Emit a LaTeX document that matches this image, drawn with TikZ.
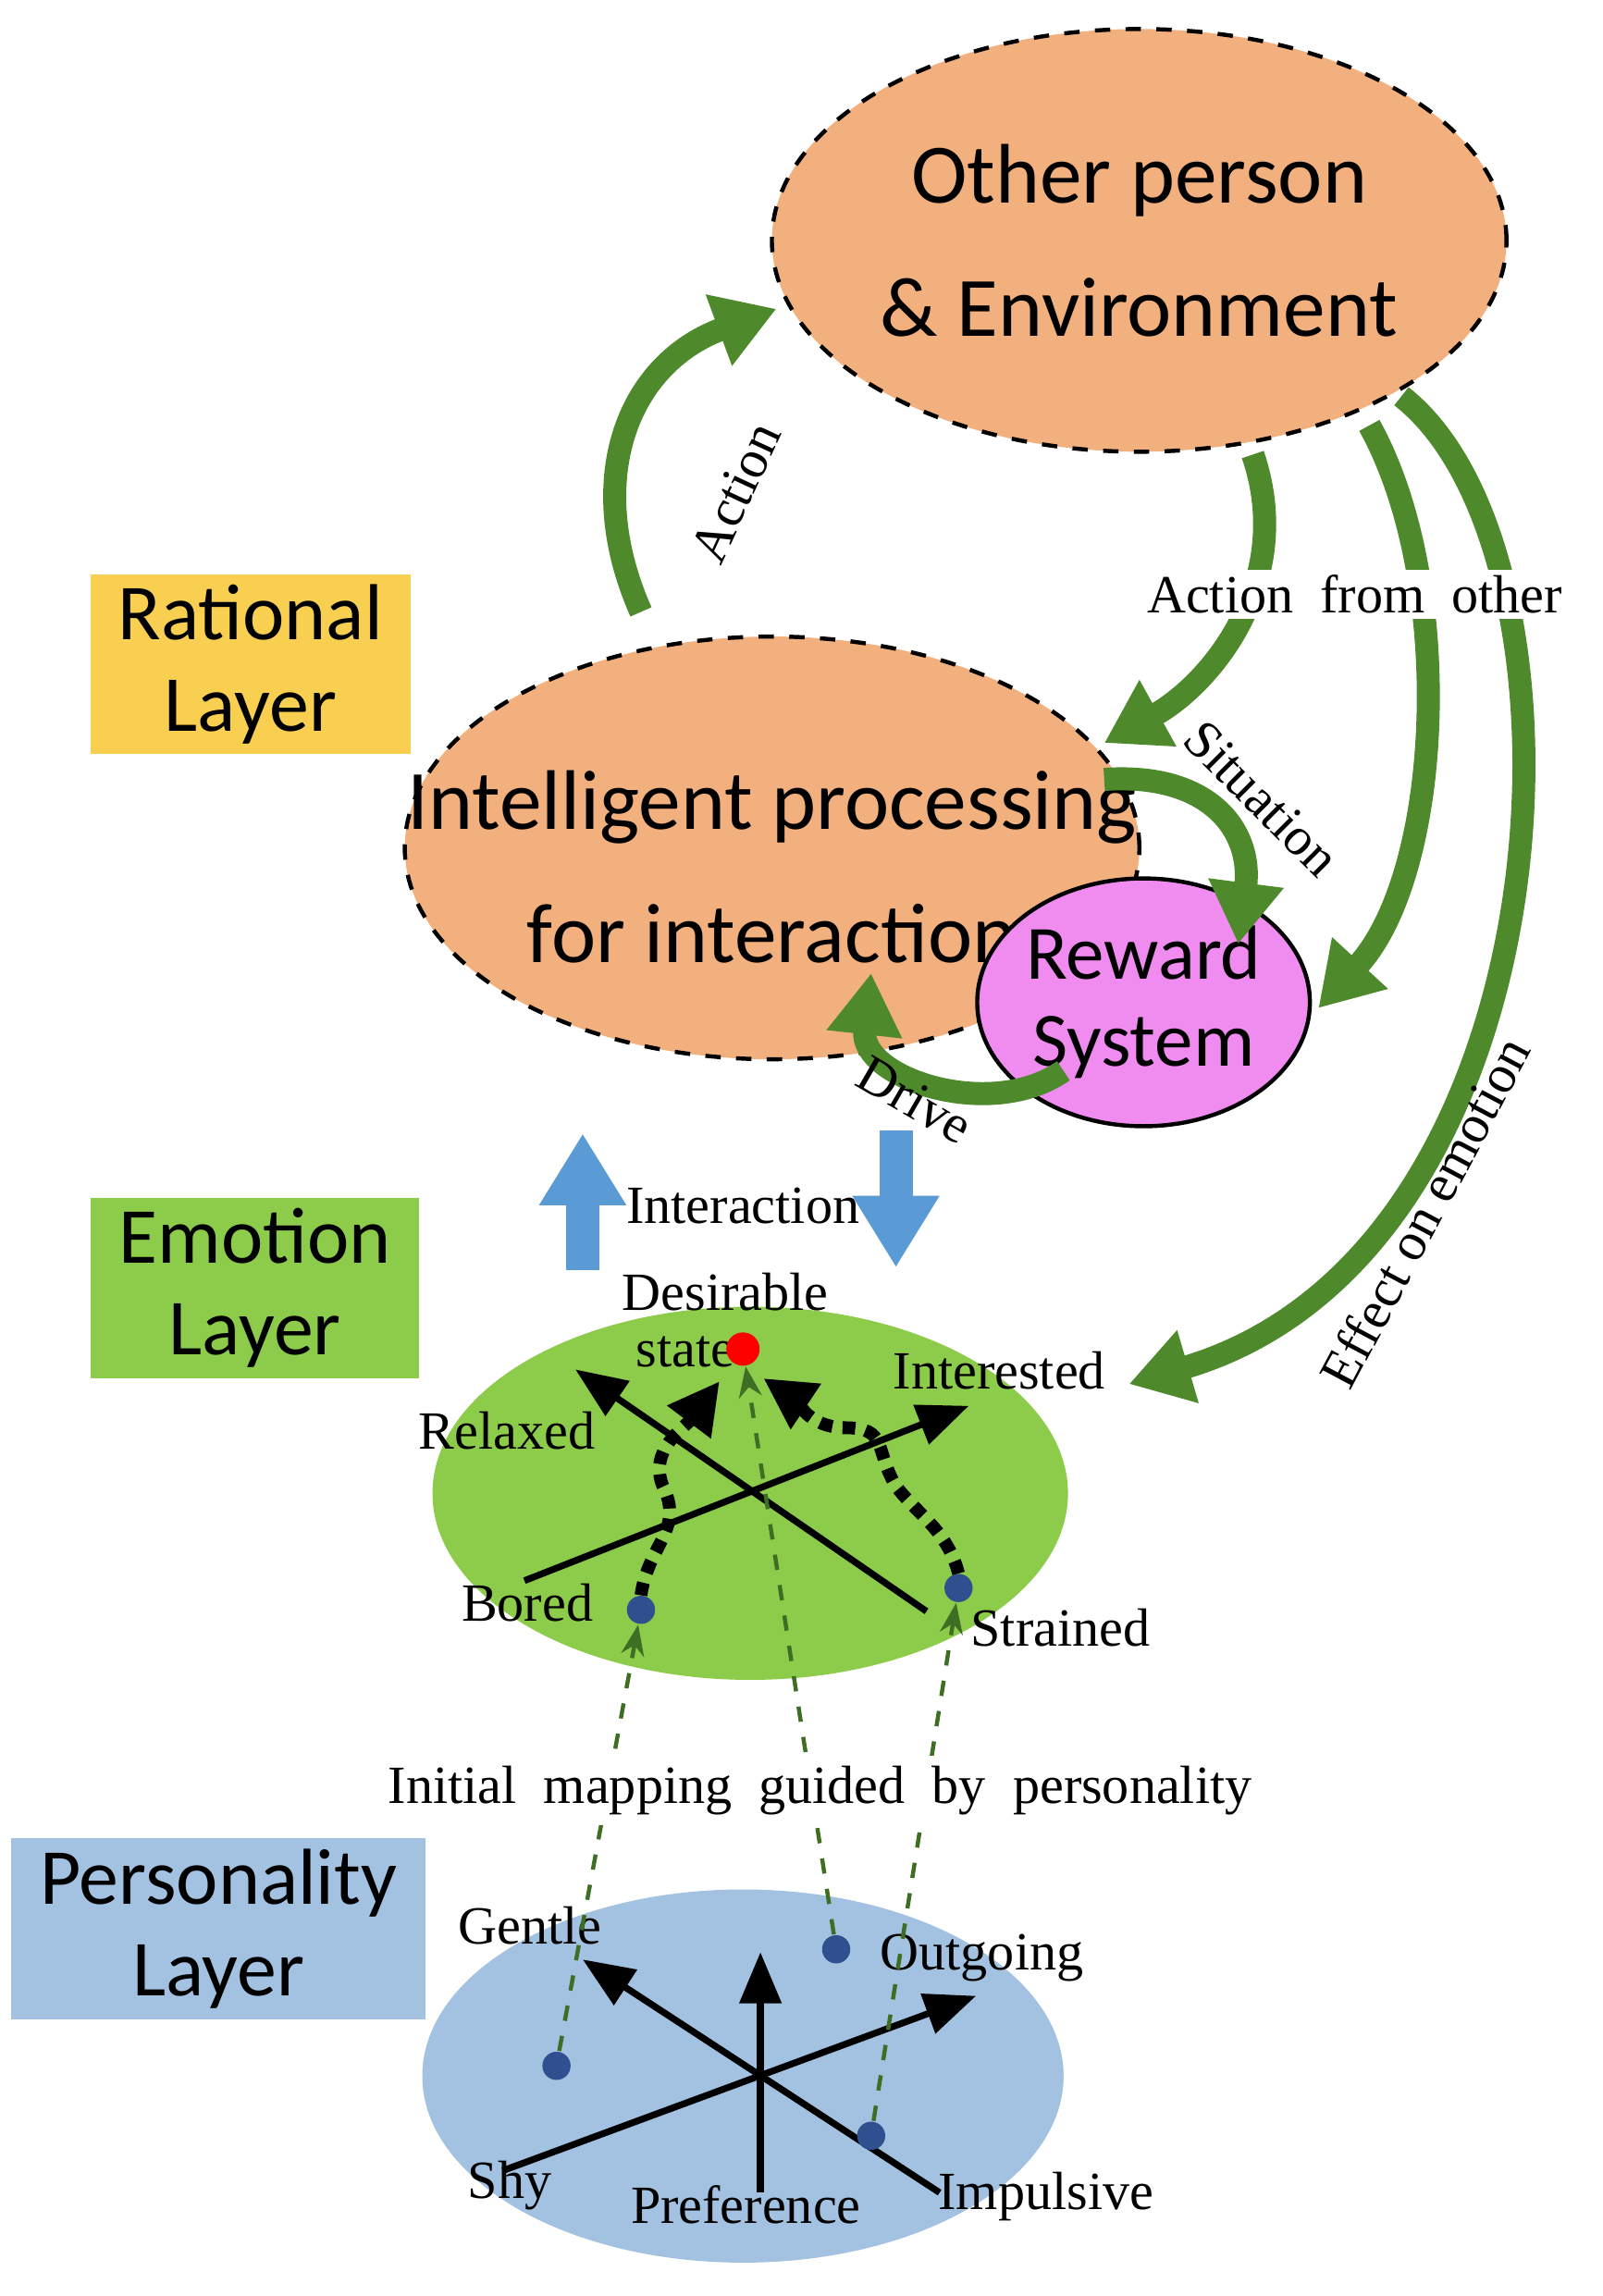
\documentclass[tikz,border=0pt]{standalone}
\usepackage{fontspec}
\setmainfont{Liberation Serif}
\newfontfamily\carl{Carlito}
\usetikzlibrary{shapes.geometric,arrows.meta}
\definecolor{orng}{HTML}{F2B07E}
\definecolor{gr}{HTML}{4E8A2C}
\definecolor{lgr}{HTML}{8DCB4A}
\definecolor{lbl}{HTML}{A3C1E0}
\definecolor{ylw}{HTML}{F9CF52}
\definecolor{viol}{HTML}{F08CF0}
\definecolor{arrb}{HTML}{5B9BD5}
\definecolor{dotb}{HTML}{2F4F8F}
\begin{document}
\begin{tikzpicture}[x=0.01cm,y=-0.01cm,
 big/.style={ellipse,draw,dashed,thick,fill=orng,inner sep=0,font=\carl\fontsize{16.5}{20}\selectfont,align=center},
 layer/.style={inner sep=0,font=\carl\fontsize{15.5}{18}\selectfont,align=center},
 lab/.style={font=\fontsize{10.5}{11}\selectfont,inner sep=1pt},
 garr/.style={gr,line width=4.5pt,-{Triangle[width=14pt,length=12pt]}},
 ax/.style={line width=1.3pt,-{Triangle[width=8pt,length=10pt]}},
 dot/.style={circle,fill=dotb,inner sep=0,minimum size=5.5pt},
 mapd/.style={gr!80!black,dashed,thick,-{Stealth[length=6pt]}},
 wig/.style={line width=2.5pt,dotted,-{Triangle[width=10pt,length=10pt]}},
 barr/.style={arrb,line width=6.5pt,-{Triangle[width=16pt,length=14pt]}}]
\useasboundingbox (0,0) rectangle (1100,1576);
% layer boxes
\node[layer,fill=ylw,minimum width=2.2cm,minimum height=1.23cm] (rl) at (172,456) {Rational\\Layer};
\node[layer,fill=lgr,minimum width=2.25cm,minimum height=1.24cm] (el) at (175,884) {Emotion\\Layer};
\node[layer,fill=lbl,minimum width=2.84cm,minimum height=1.24cm] (pl) at (150,1324) {Personality\\Layer};
% main ellipses
\node[big,minimum width=5.04cm,minimum height=2.9cm] (op) at (782,165) {Other person\\[6pt]\& Environment};
\node[big,minimum width=5.04cm,minimum height=2.9cm] (ip) at (530,582) {};
\node[font=\carl\fontsize{16.5}{20}\selectfont,align=center] at (530,595) {Intelligent processing\\[6pt]for interaction};
\node[ellipse,draw,thick,fill=viol,minimum width=2.1cm,minimum height=1.7cm,inner sep=0,font=\carl\fontsize{15}{17}\selectfont,align=center] (rs) at (785,688) {Reward\\System};
% emotion & personality ellipses
\node[ellipse,fill=lgr,minimum width=4.36cm,minimum height=2.56cm] (em) at (515,1025) {};
\node[ellipse,fill=lbl,minimum width=4.4cm,minimum height=2.56cm] (pe) at (510,1425) {};
% green arrows
\coordinate (a1) at (440,420); \coordinate (a2) at (533,212);
\draw[garr] (a1) .. controls (400,330) and (430,250) .. (a2);
\node[lab,rotate=65] at (505,338) {Action};
\coordinate (b1) at (860,312); \coordinate (b2) at (758,510);
\draw[garr] (b1) .. controls (890,400) and (830,470) .. (b2);
\coordinate (c1) at (758,535); \coordinate (c2) at (850,648);
\draw[garr] (c1) .. controls (830,530) and (860,570) .. (c2);
\node[lab,rotate=-45] at (866,548) {Situation};
\coordinate (d1) at (940,292); \coordinate (d2) at (905,692);
\draw[garr] (d1) .. controls (1000,400) and (990,600) .. (d2);
\coordinate (e1) at (962,272); \coordinate (e2) at (775,950);
\draw[garr] (e1) .. controls (1100,380) and (1080,860) .. (e2);
\node[lab,fill=white] at (930,408) {Action\ \ from\ \ other};
\node[lab,rotate=62] at (978,832) {Effect on emotion};
\coordinate (f1) at (730,735); \coordinate (f2) at (598,668);
\draw[garr] (f1) .. controls (680,770) and (590,740) .. (f2);
\node[lab,rotate=-30] at (628,755) {Drive};
% interaction arrows
\coordinate (u1) at (400,872); \coordinate (u2) at (400,778);
\draw[barr] (u1) -- (u2);
\coordinate (w1) at (615,776); \coordinate (w2) at (615,870);
\draw[barr] (w1) -- (w2);
\node[lab] at (510,828) {Interaction};
% emotion axes
\coordinate (bo) at (360,1085); \coordinate (in) at (665,965);
\coordinate (st) at (636,1106); \coordinate (re) at (395,940);
\draw[ax] (bo) -- (in); \draw[ax] (st) -- (re);
\node[lab,align=center] at (498,906) {Desirable\\state\hspace*{1.5em}};
\node[lab] at (348,982) {Relaxed};
\node[lab] at (686,941) {Interested};
\node[lab] at (362,1100) {Bored};
\node[lab] at (728,1117) {Strained};
\node[dot] (eb) at (440,1105) {};
\node[dot] (es) at (658,1090) {};
\node[circle,fill=red,inner sep=0,minimum size=6.5pt] (ds) at (510,926) {};
\draw[wig] (440,1095) .. controls (445,1060) and (470,1050) .. (455,1020) .. controls (445,995) and (470,980) .. (494,948);
\draw[wig] (658,1080) .. controls (650,1050) and (630,1040) .. (615,1020) .. controls (600,995) and (610,980) .. (580,980) .. controls (555,980) and (545,960) .. (524,946);
% personality axes
\coordinate (sh) at (345,1490); \coordinate (ou) at (670,1370);
\coordinate (im) at (645,1505); \coordinate (ge) at (400,1345);
\coordinate (pb) at (522,1505); \coordinate (pt) at (522,1340);
\draw[ax] (sh) -- (ou); \draw[ax] (im) -- (ge); \draw[ax] (pb) -- (pt);
\node[lab] at (364,1322) {Gentle};
\node[lab] at (674,1344) {Outgoing};
\node[lab] at (350,1500) {Shy};
\node[lab] at (512,1513) {Preference};
\node[lab] at (718,1508) {Impulsive};
\node[dot] (p1) at (382,1418) {};
\node[dot] (p2) at (574,1338) {};
\node[dot] (p3) at (598,1466) {};
\draw[mapd] (p1) -- (eb);
\draw[mapd] (p2) -- (ds);
\draw[mapd] (p3) -- (es);
\node[lab,fill=lgr!0,inner sep=2pt] at (563,1229) {Initial\ \ mapping\ \ guided\ \ by\ \ personality};
\end{tikzpicture}
\end{document}
